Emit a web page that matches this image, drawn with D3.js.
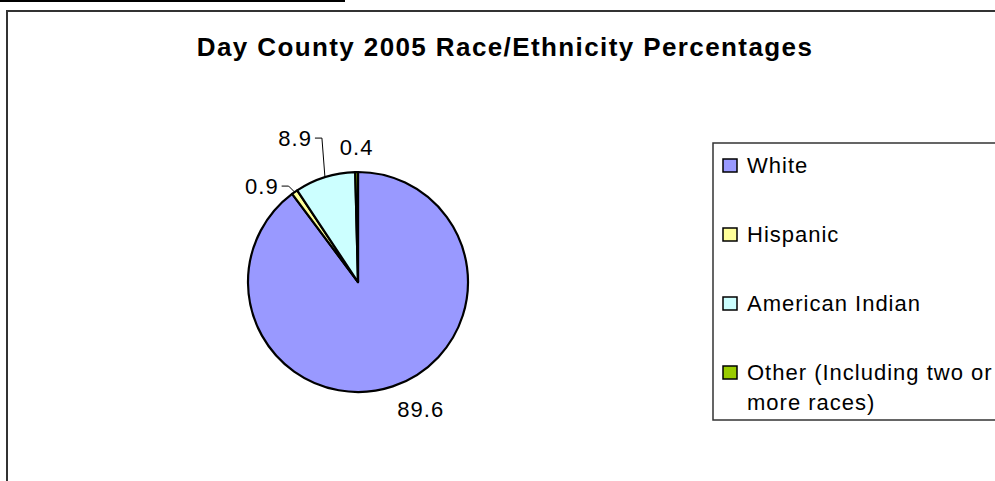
<!DOCTYPE html>
<html>
<head>
<meta charset="utf-8">
<script src="https://cdn.jsdelivr.net/npm/d3@7/dist/d3.min.js"></script>
<style>
  html, body { margin: 0; padding: 0; background: #fff; }
  svg { display: block; }
  text { font-family: "Liberation Sans", Arial, sans-serif; fill: #000; }
</style>
</head>
<body>
<svg id="chart" width="995" height="481"></svg>
<script>
var categories = ["White", "Hispanic", "American Indian", "Other (Including two or more races)"];
var legendLines = [["White"], ["Hispanic"], ["American Indian"], ["Other (Including two or", "more races)"]];
var values = [89.6, 0.9, 8.9, 0.4];
var colors = ["#9999FF", "#FFFF99", "#CCFFFF", "#99CC00"];

var W = 995, H = 481,
    cx = 358, cy = 282, radius = 110,
    svg = d3.select("#chart");

// top rule and chart frame
svg.append("line").attr("x1", 0).attr("x2", 345).attr("y1", 1).attr("y2", 1)
    .style("stroke", "#000").style("stroke-width", 2);
svg.append("rect").attr("x", 7).attr("y", 11).attr("width", W + 20).attr("height", H + 20)
    .style("fill", "#fff").style("stroke", "#333").style("stroke-width", 2);

svg.append("text").attr("x", 505).attr("y", 56).attr("text-anchor", "middle")
    .style("font-size", "26px").style("font-weight", "bold").style("letter-spacing", "1.4px")
    .text("Day County 2005 Race/Ethnicity Percentages");

var pie = d3.pie().sort(null).value(function (d) { return d; }),
    arcs = pie(values),
    arc = d3.arc().innerRadius(0).outerRadius(radius);

var g = svg.append("g").attr("transform", "translate(" + cx + "," + cy + ")");
g.selectAll(".slice").data(arcs).enter().append("path").attr("class", "slice")
    .attr("d", arc)
    .style("fill", function (d, i) { return colors[i]; })
    .style("stroke", "#000").style("stroke-width", 2.2).style("stroke-linejoin", "round");

// label layout: offset of the label (or leader elbow) from the slice's edge point
var labelLayout = [
    { dx: 28, dy: 31, leader: false, anchor: "middle" },
    { dx: -6, dy: -6, leader: true, anchor: "end" },
    { dx: -3, dy: -39, leader: true, anchor: "end" },
    { dx: 0, dy: -17, leader: false, anchor: "middle" }
];

arcs.forEach(function (d, i) {
    var a = (d.startAngle + d.endAngle) / 2,
        ex = Math.sin(a) * radius, ey = -Math.cos(a) * radius,
        L = labelLayout[i], tx, ty;
    if (L.leader) {
        var bx = ex + L.dx, by = ey + L.dy;
        g.append("polyline")
            .attr("points", [[ex, ey], [bx, by], [bx - 7, by]].map(function (p) { return p.join(","); }).join(" "))
            .style("fill", "none").style("stroke", "#000").style("stroke-width", 1);
        tx = bx - 10; ty = by + 8;
    } else {
        tx = ex + L.dx; ty = ey + L.dy;
    }
    g.append("text").attr("x", tx).attr("y", ty).attr("text-anchor", L.anchor)
        .style("font-size", "22px").style("letter-spacing", "1px")
        .text(d3.format(".1f")(values[i]));
});

// legend
var legend = svg.append("g");
legend.append("rect").attr("x", 713).attr("y", 143).attr("width", 300).attr("height", 277)
    .style("fill", "#fff").style("stroke", "#333").style("stroke-width", 1.5);

var ly = d3.scalePoint().domain(d3.range(categories.length)).range([173, 380]);
var item = legend.selectAll(".item").data(categories).enter().append("g").attr("class", "item")
    .attr("transform", function (d, i) { return "translate(723," + ly(i) + ")"; });
item.append("rect").attr("x", 0).attr("y", -14).attr("width", 14).attr("height", 13)
    .style("fill", function (d, i) { return colors[i]; })
    .style("stroke", "#000").style("stroke-width", 1.5);
item.each(function (d, i) {
    var t = d3.select(this).append("text").attr("x", 24).attr("y", 0)
        .style("font-size", "22px").style("letter-spacing", "1px");
    legendLines[i].forEach(function (line, j) {
        t.append("tspan").attr("x", 24).attr("dy", j ? 30 : 0).text(line);
    });
});
</script>
</body>
</html>
